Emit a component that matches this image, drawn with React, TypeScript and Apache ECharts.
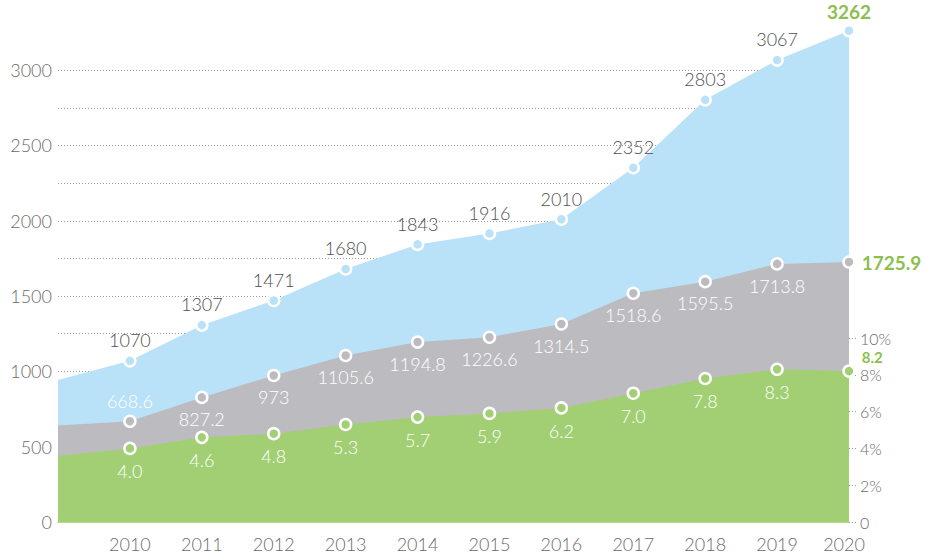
import React, { useEffect, useRef } from 'react';
import * as echarts from 'echarts';

const years = ['', '2010', '2011', '2012', '2013', '2014', '2015', '2016', '2017', '2018', '2019', '2020'];
const totalValues = [943, 1070, 1307, 1471, 1680, 1843, 1916, 2010, 2352, 2803, 3067, 3262];
const partValues = [640, 668.6, 827.2, 973, 1105.6, 1194.8, 1226.6, 1314.5, 1518.6, 1595.5, 1713.8, 1725.9];
const rateValues = [3.6, 4.0, 4.6, 4.8, 5.3, 5.7, 5.9, 6.2, 7.0, 7.8, 8.3, 8.2];

const BLUE = '#b9e1f7';
const GRAY = '#bcbcc0';
const GREEN = '#a2cf74';
const ACCENT = '#8cbf50';
const FONT = 'Lato, "Open Sans", sans-serif';
const AXIS_TEXT = '#6b6b6b';
const FS = 18;

function buildData(values: number[], lastLabel: any, firstLabel?: any) {
  const n = values.length;
  return values.map((v, i) => {
    if (i === 0) return { value: v, symbol: 'none', label: { show: false } };
    if (i === 1 && firstLabel) return { value: v, label: firstLabel };
    if (i === n - 1)
      return {
        value: v,
        label: {
          show: true,
          color: ACCENT,
          fontSize: 19,
          fontWeight: 'bold',
          ...lastLabel,
        },
      };
    return { value: v };
  });
}

export default function App() {
  const ref = useRef<HTMLDivElement>(null);
  useEffect(() => {
    document.body.style.margin = '0';
    if (!ref.current) return;
    const chart = echarts.init(ref.current, undefined, { renderer: 'svg' });
    const symbolCommon = {
      symbol: 'circle',
      symbolSize: 11,
      showSymbol: true,
      showAllSymbol: true,
      lineStyle: { width: 0, opacity: 0 },
    };
    chart.setOption({
      animation: false,
      textStyle: { fontFamily: FONT },
      grid: [
        { left: 58, right: 77, top: 32.5, bottom: 35 },
        { left: 58, right: 77, top: 338, bottom: 35 },
      ],
      xAxis: [
        {
          gridIndex: 0,
          type: 'category',
          boundaryGap: false,
          data: years.map((y, i) =>
            i === years.length - 1 ? { value: y, textStyle: { padding: [0, 10, 0, 0] } } : y
          ),
          axisLine: { show: true, lineStyle: { color: '#b6da93', width: 2 } },
          axisTick: {
            show: true,
            inside: true,
            length: 4,
            interval: 0,
            lineStyle: { color: '#ffffff', width: 1.5 },
          },
          axisLabel: { interval: 0, color: AXIS_TEXT, fontSize: FS, fontWeight: 300, margin: 13, fontFamily: FONT },
          splitLine: { show: false },
        },
        {
          gridIndex: 1,
          type: 'category',
          boundaryGap: false,
          data: years,
          show: false,
        },
      ],
      yAxis: [
        {
          gridIndex: 0,
          type: 'value',
          min: 0,
          max: 3250,
          interval: 250,
          axisLine: { show: false },
          axisTick: { show: false },
          axisLabel: {
            color: AXIS_TEXT,
            fontSize: FS,
            fontWeight: 300,
            margin: 6,
            fontFamily: FONT,
            formatter: (v: number) => (v % 500 === 0 ? String(v) : ''),
          },
          splitLine: {
            show: true,
            showMinLine: false,
            showMaxLine: false,
            lineStyle: { color: '#9a9a9a', width: 1, type: [1, 2] },
          },
        },
        {
          gridIndex: 1,
          type: 'value',
          position: 'right',
          min: 0,
          max: 10,
          interval: 2,
          axisLine: { show: false },
          axisTick: { show: true, length: 9, lineStyle: { color: '#9a9a9a', type: [1, 2] } },
          axisLabel: {
            color: AXIS_TEXT,
            fontSize: 16,
            fontWeight: 300,
            margin: 11,
            fontFamily: FONT,
            formatter: (v: number) => (v === 0 ? '0' : v + '%'),
          },
          splitLine: { show: false },
        },
      ],
      series: [
        {
          name: 'total',
          type: 'line',
          xAxisIndex: 0,
          yAxisIndex: 0,
          clip: false,
          ...symbolCommon,
          data: buildData(totalValues, { position: 'top', distance: 3 }),
          areaStyle: { color: BLUE, opacity: 1 },
          itemStyle: { color: BLUE, borderColor: '#ffffff', borderWidth: 2.5 },
          label: { show: true, position: 'top', distance: 5, color: '#4f4f4f', fontSize: FS, fontWeight: 300, fontFamily: FONT },
        },
        {
          name: 'part',
          type: 'line',
          xAxisIndex: 0,
          yAxisIndex: 0,
          ...symbolCommon,
          data: buildData(
            partValues,
            { position: 'right', distance: 6 },
            { show: true, position: 'top', distance: 5 }
          ),
          areaStyle: { color: GRAY, opacity: 1 },
          itemStyle: { color: GRAY, borderColor: '#ffffff', borderWidth: 2.5 },
          label: { show: true, position: 'bottom', distance: 6, color: '#ffffff', fontSize: FS, fontWeight: 300, fontFamily: FONT },
        },
        {
          name: 'rate',
          type: 'line',
          xAxisIndex: 1,
          yAxisIndex: 1,
          ...symbolCommon,
          data: buildData(rateValues, { position: 'right', distance: 6, offset: [0, -14], fontSize: 15 }),
          areaStyle: { color: GREEN, opacity: 1 },
          itemStyle: { color: GREEN, borderColor: '#ffffff', borderWidth: 2.5 },
          label: {
            show: true,
            position: 'bottom',
            distance: 7,
            color: '#ffffff',
            fontSize: FS,
            fontWeight: 300,
            fontFamily: FONT,
            formatter: (p: any) => Number(p.value).toFixed(1),
          },
        },
      ],
    });
    return () => chart.dispose();
  }, []);
  return <div ref={ref} style={{ width: 926, height: 557 }} />;
}
